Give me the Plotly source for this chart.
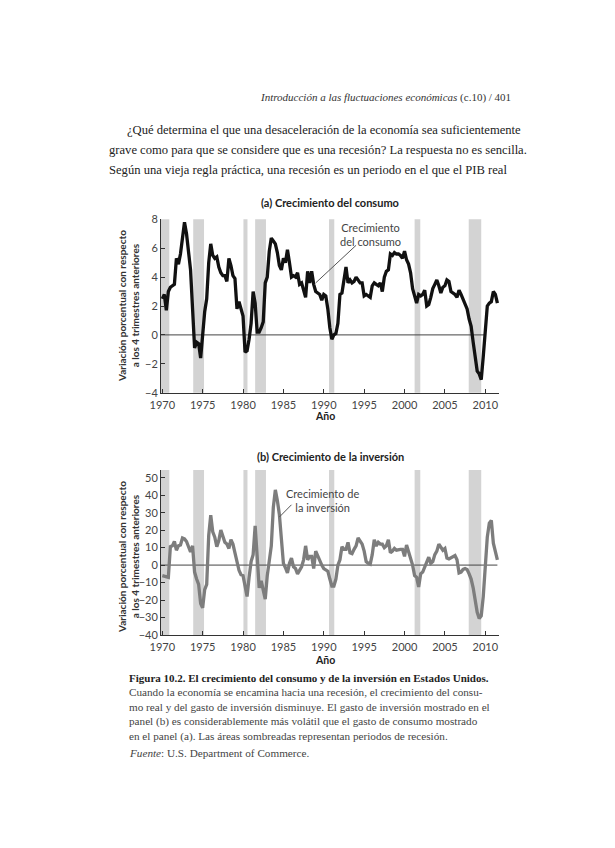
import numpy as np
import plotly.graph_objects as go

W, H = 615, 848

# ---------------- data ----------------
start_year = 1970.0
consumo = [
    2.5, 2.8, 1.7, 3.0,   # 1970
    3.3, 3.4, 3.5, 5.3,   # 1971
    4.9, 5.6, 6.6, 7.8,   # 1972
    7.0, 5.8, 4.5, 1.8,   # 1973
    -0.9, -0.5, -0.6, -1.6,  # 1974
    0.2, 1.6, 2.5, 5.0,   # 1975
    6.3, 5.5, 5.3, 5.4,   # 1976
    4.7, 4.3, 4.1, 4.1,   # 1977
    3.7, 5.3, 4.8, 4.1,   # 1978
    3.9, 1.8, 2.3, 1.8,   # 1979
    1.3, -1.2, -1.1, -0.3,  # 1980
    0.8, 3.0, 2.2, 0.2,   # 1981
    0.2, 0.5, 0.9, 3.6,   # 1982
    4.0, 5.8, 6.7, 6.5,   # 1983
    6.3, 5.7, 4.8, 4.5,   # 1984
    5.3, 5.0, 5.9, 5.0,   # 1985
    4.0, 4.1, 4.0, 4.3,   # 1986
    3.5, 3.6, 3.0, 2.6,   # 1987
    4.4, 3.6, 4.4, 3.5,   # 1988
    3.0, 2.9, 2.8, 2.4,   # 1989
    2.8, 2.7, 1.8, 0.5,   # 1990
    -0.3, 0.0, 0.1, 0.8,  # 1991
    2.8, 2.9, 3.9, 4.7,   # 1992
    3.6, 3.8, 3.6, 3.7,   # 1993
    4.0, 3.8, 3.6, 3.6,   # 1994
    2.7, 2.8, 2.7, 2.6,   # 1995
    3.4, 3.6, 3.5, 3.4,   # 1996
    3.6, 3.0, 4.0, 4.4,   # 1997
    4.5, 5.6, 5.5, 5.7,   # 1998
    5.6, 5.6, 5.5, 5.3,   # 1999
    5.8, 5.2, 4.9, 4.3,   # 2000
    3.2, 2.6, 2.2, 2.8,   # 2001
    2.7, 2.8, 3.1, 2.0,   # 2002
    2.1, 2.6, 3.2, 3.5,   # 2003
    3.8, 3.4, 2.9, 3.3,   # 2004
    3.4, 3.8, 3.7, 3.0,   # 2005
    2.9, 2.8, 2.6, 3.1,   # 2006
    2.8, 2.5, 2.2, 1.8,   # 2007
    1.1, 0.6, -0.5, -1.5,  # 2008
    -2.5, -2.7, -3.1, -1.5,  # 2009
    0.3, 2.0, 2.2, 2.3,   # 2010
    3.0, 2.8, 2.2,        # 2011
]
inversion = [
    -6.0, -6.5, -6.5, -7.0,    # 1970
    10.5, 11.0, 13.5, 8.5,     # 1971
    11.0, 11.5, 15.5, 15.0,    # 1972
    13.5, 11.0, 7.5, 11.0,     # 1973
    -4.0, -8.0, -11.0, -22.0,  # 1974
    -24.5, -14.0, -11.0, 17.0,  # 1975
    28.5, 19.0, 16.0, 10.5,    # 1976
    14.0, 20.0, 16.0, 13.0,    # 1977
    12.0, 9.5, 14.5, 12.0,     # 1978
    7.0, 2.0, -3.0, -5.5,      # 1979
    -6.0, -12.0, -18.0, -7.0,  # 1980
    2.0, 6.0, 22.5, 5.0,       # 1981
    -13.0, -9.0, -14.0, -19.5,  # 1982
    -6.0, 2.0, 11.0, 33.0,     # 1983
    43.0, 37.0, 29.0, 15.0,    # 1984
    1.0, -1.5, -4.5, 1.0,      # 1985
    4.0, -1.0, -2.0, -5.0,     # 1986
    -3.0, -1.0, 3.0, 11.0,     # 1987
    3.0, 5.0, 5.0, -2.0,       # 1988
    8.0, 5.0, 3.0, 0.0,        # 1989
    -2.0, -2.5, -3.5, -8.0,    # 1990
    -12.0, -12.0, -8.0, 0.0,   # 1991
    3.0, 10.5, 9.0, 9.0,       # 1992
    13.0, 7.0, 6.5, 9.0,       # 1993
    11.0, 15.5, 14.0, 12.0,    # 1994
    8.0, 2.0, 1.0, 0.5,        # 1995
    6.0, 14.5, 11.0, 13.0,     # 1996
    12.0, 12.0, 10.0, 11.0,    # 1997
    14.5, 7.0, 8.0, 9.5,       # 1998
    8.5, 9.0, 9.0, 9.0,        # 1999
    5.0, 11.5, 8.0, 5.0,       # 2000
    0.0, -6.0, -7.0, -12.5,    # 2001
    -5.0, -4.0, -1.5, 2.0,     # 2002
    4.5, 1.0, 2.0, 6.0,        # 2003
    8.0, 12.0, 10.0, 8.5,      # 2004
    9.5, 4.0, 3.5, 4.0,        # 2005
    5.0, 5.5, 3.0, -4.5,       # 2006
    -4.0, -2.5, -2.0, -2.5,    # 2007
    -5.0, -8.0, -13.0, -19.0,  # 2008
    -27.0, -30.5, -29.0, -18.0,  # 2009
    -1.0, 16.0, 24.0, 25.5,    # 2010
    12.5, 8.0, 3.0,            # 2011
]
recesion_inicio = [1969.84, 1973.83, 1980.05, 1981.5, 1990.65, 2001.25, 2007.95]
recesion_fin = [1970.87, 1975.17, 1980.55, 1982.84, 1991.3, 2001.95, 2009.5]
x_ticks = [1970, 1975, 1980, 1985, 1990, 1995, 2000, 2005, 2010]
y_ticks_a = [-4, -2, 0, 2, 4, 6, 8]
y_ticks_b = [-40, -30, -20, -10, 0, 10, 20, 30, 40, 50]

x_c = start_year + 0.25 * np.arange(len(consumo))
x_i = start_year + 0.25 * np.arange(len(inversion))

# ---------------- layout helpers ----------------
def px(x):
    return x / W

def py(y):
    return 1 - y / H

SANS = "Lato"
SERIF = "Liberation Serif"
AX = "#333333"

fig = go.Figure()
fig.add_trace(go.Scatter(x=x_c, y=consumo, mode="lines",
                         line=dict(color="#111111", width=3.3), xaxis="x", yaxis="y",
                         hoverinfo="skip", showlegend=False))
fig.add_trace(go.Scatter(x=x_i, y=inversion, mode="lines",
                         line=dict(color="#7d7d7d", width=3.3), xaxis="x2", yaxis="y2",
                         hoverinfo="skip", showlegend=False))

xr = [1969.84, 2011.7]
xcommon = dict(range=xr, tickvals=x_ticks, ticks="inside", ticklen=4, tickcolor=AX,
               showline=True, linecolor=AX, linewidth=1, showgrid=False, zeroline=False,
               tickfont=dict(family=SANS, size=11, color="#444444"), fixedrange=True,
               automargin=False, ticklabelstandoff=2)
ycommon = dict(ticks="inside", ticklen=4, tickcolor=AX, showline=True, linecolor=AX,
               linewidth=1, showgrid=False, zeroline=False, automargin=False,
               tickfont=dict(family=SANS, size=11, color="#444444"), fixedrange=True)

xd = [px(161), px(499)]
fig.update_layout(
    width=W, height=H, margin=dict(l=0, r=0, t=0, b=0, pad=0),
    paper_bgcolor="white", plot_bgcolor="white", showlegend=False,
    xaxis=dict(domain=xd, anchor="y", **xcommon),
    yaxis=dict(domain=[py(392.7), py(219.3)], range=[-4, 8], tickvals=y_ticks_a,
               anchor="x", **ycommon),
    xaxis2=dict(domain=xd, anchor="y2", **xcommon),
    yaxis2=dict(domain=[py(635), py(470)], range=[-40, 54.4], tickvals=y_ticks_b,
                anchor="x2", **ycommon),
)

shapes = []
for s, e in zip(recesion_inicio, recesion_fin):
    for xa, ya in (("x", "y domain"), ("x2", "y2 domain")):
        shapes.append(dict(type="rect", xref=xa, yref=ya, x0=s, x1=e, y0=0, y1=1,
                           fillcolor="#d3d3d3", line=dict(width=0), layer="below"))
# zero lines
shapes.append(dict(type="line", xref="x", yref="y", x0=xr[0], x1=2010.0, y0=0, y1=0,
                   line=dict(color="#444444", width=1), layer="below"))
shapes.append(dict(type="line", xref="x2", yref="y2", x0=xr[0], x1=2011.5, y0=0, y1=0,
                   line=dict(color="#444444", width=1), layer="below"))
# leader lines
shapes.append(dict(type="line", xref="x", yref="y", x0=1994.0, y0=6.2, x1=1989.0, y1=3.6,
                   line=dict(color="#555555", width=1)))
shapes.append(dict(type="line", xref="x2", yref="y2", x0=1986.0, y0=34.5, x1=1984.5, y1=27.5,
                   line=dict(color="#555555", width=1)))
fig.update_layout(shapes=shapes)

ann = []
def text(x, y, t, size, family, color="#222222", xanchor="left", yanchor="middle", angle=0, align="left"):
    ann.append(dict(x=px(x), y=py(y), xref="paper", yref="paper", text=t, showarrow=False,
                    xanchor=xanchor, yanchor=yanchor, textangle=angle, align=align,
                    font=dict(family=family, size=size, color=color)))

# page header and paragraph
text(513, 97, "<i>Introducción a las fluctuaciones económicas</i> (c.10) / 401", 11, SERIF,
     color="#333333", xanchor="right")
text(125, 130, "¿Qué determina el que una desaceleración de la economía sea suficientemente", 12.6, SERIF)
text(107, 150, "grave como para que se considere que es una recesión? La respuesta no es sencilla.", 12.6, SERIF)
text(107, 170, "Según una vieja regla práctica, una recesión es un periodo en el que el PIB real", 12.6, SERIF)

# chart titles
text(330, 203, "<b>(a) Crecimiento del consumo</b>", 11, SANS, xanchor="center")
text(330, 456, "<b>(b) Crecimiento de la inversión</b>", 11, SANS, xanchor="center")
# axis titles
for yc in (306, 557):
    text(128, yc, "<b>Variación porcentual con respecto<br>a los 4 trimestres anteriores</b>", 10,
         SANS, color="#333333", xanchor="center", angle=-90, align="center")
text(325, 416, "<b>Año</b>", 10.5, SANS, xanchor="center")
text(325, 660, "<b>Año</b>", 10.5, SANS, xanchor="center")
# in-chart labels
text(370, 235, "Crecimiento<br>del consumo", 11, SANS, color="#444444", xanchor="center", align="center")
text(322, 500, "Crecimiento de<br>la inversión", 11, SANS, color="#444444", xanchor="center", align="center")

# caption
text(127, 678, "<b>Figura 10.2. El crecimiento del consumo y de la inversión en Estados Unidos.</b>", 11, SERIF)
cap = [
    "Cuando la economía se encamina hacia una recesión, el crecimiento del consu-",
    "mo real y del gasto de inversión disminuye. El gasto de inversión mostrado en el",
    "panel (b) es considerablemente más volátil que el gasto de consumo mostrado",
    "en el panel (a). Las áreas sombreadas representan periodos de recesión.",
]
for i, line in enumerate(cap):
    text(127, 692 + 14.8 * i, line, 11.2, SERIF, color="#444444")
text(127, 753, "<i>Fuente</i>: U.S. Department of Commerce.", 11.2, SERIF, color="#444444")

fig.update_layout(annotations=ann)
fig.write_html("out.html", config={"displayModeBar": False},
               post_script="document.body.style.margin='0';document.body.style.padding='0';"
                           "document.body.style.overflow='hidden';")
